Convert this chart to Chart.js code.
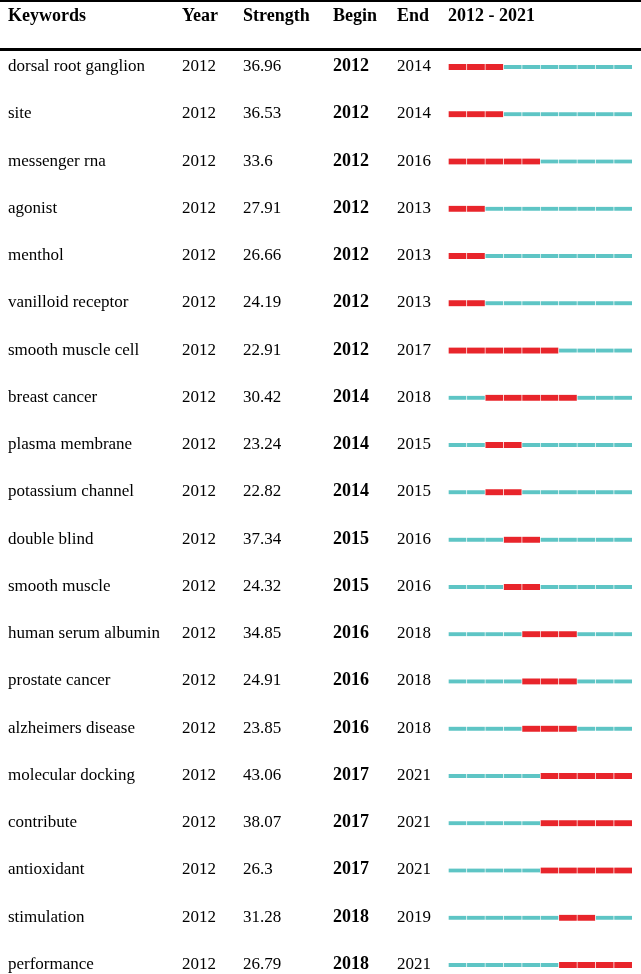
<!DOCTYPE html>
<html>
<head>
<meta charset="utf-8">
<script src="https://cdn.jsdelivr.net/npm/chart.js@4"></script>
<style>
  html, body { margin: 0; padding: 0; background: #fff; }
  #burstChart { display: block; }
</style>
</head>
<body>
<canvas id="burstChart" width="641" height="974"></canvas>
<script>
// table data
const keywords = ['dorsal root ganglion', 'site', 'messenger rna', 'agonist', 'menthol',
    'vanilloid receptor', 'smooth muscle cell', 'breast cancer', 'plasma membrane',
    'potassium channel', 'double blind', 'smooth muscle', 'human serum albumin',
    'prostate cancer', 'alzheimers disease', 'molecular docking', 'contribute',
    'antioxidant', 'stimulation', 'performance'];
const firstYear = [2012, 2012, 2012, 2012, 2012, 2012, 2012, 2012, 2012, 2012,
    2012, 2012, 2012, 2012, 2012, 2012, 2012, 2012, 2012, 2012];
const strength = ['36.96', '36.53', '33.6', '27.91', '26.66', '24.19', '22.91', '30.42', '23.24',
    '22.82', '37.34', '24.32', '34.85', '24.91', '23.85', '43.06', '38.07', '26.3', '31.28', '26.79'];
const burstBegin = [2012, 2012, 2012, 2012, 2012, 2012, 2012, 2014, 2014, 2014,
    2015, 2015, 2016, 2016, 2016, 2017, 2017, 2017, 2018, 2018];
const burstEnd = [2014, 2014, 2016, 2013, 2013, 2013, 2017, 2018, 2015, 2015,
    2016, 2016, 2018, 2018, 2018, 2021, 2021, 2021, 2019, 2021];
const timeline = [2012, 2013, 2014, 2015, 2016, 2017, 2018, 2019, 2020, 2021];
const headers = ['Keywords', 'Year', 'Strength', 'Begin', 'End', '2012 - 2021'];

const RED = '#e8252b';
const TEAL = '#5ec5c5';

// one red and one teal dataset per year, each row gets one segment
const datasets = [];
timeline.forEach(yr => {
    datasets.push({
        data: keywords.map((k, i) => (yr >= burstBegin[i] && yr <= burstEnd[i]) ? [yr, yr + 1] : null),
        backgroundColor: RED,
        barThickness: 6
    });
    datasets.push({
        data: keywords.map((k, i) => (yr >= burstBegin[i] && yr <= burstEnd[i]) ? null : [yr, yr + 1]),
        backgroundColor: TEAL,
        barThickness: 4
    });
});

// draws the table columns and rules next to the bars
const tablePlugin = {
    id: 'tablePlugin',
    afterDraw(chart) {
        const c = chart.ctx;
        const yScale = chart.scales.y;
        const W = chart.width;
        c.save();
        c.fillStyle = '#000';
        c.fillRect(0, 0, W, 2);
        c.fillRect(0, 48, W, 3);

        const colX = [8, 182, 243, 333, 397, chart.chartArea.left];
        c.textBaseline = 'alphabetic';
        c.font = 'bold 18px "Liberation Serif", "Times New Roman", serif';
        headers.forEach((h, j) => c.fillText(h, colX[j], 21));

        keywords.forEach((k, i) => {
            const y = yScale.getPixelForValue(i) + 4;
            c.font = '17px "Liberation Serif", "Times New Roman", serif';
            c.fillText(k, colX[0], y);
            c.fillText(String(firstYear[i]), colX[1], y);
            c.fillText(strength[i], colX[2], y);
            c.fillText(String(burstEnd[i]), colX[4], y);
            c.font = 'bold 18px "Liberation Serif", "Times New Roman", serif';
            c.fillText(String(burstBegin[i]), colX[3], y);
        });
        c.restore();
    }
};

new Chart(document.getElementById('burstChart'), {
    type: 'bar',
    data: { labels: keywords, datasets: datasets },
    options: {
        indexAxis: 'y',
        responsive: false,
        animation: false,
        layout: { padding: { left: 448, right: 9, top: 67, bottom: 9 } },
        datasets: {
            bar: {
                grouped: false,
                clip: false,
                borderSkipped: false,
                borderColor: '#ffffff',
                borderWidth: { left: 1, right: 0, top: 0, bottom: 0 }
            }
        },
        plugins: {
            legend: { display: false },
            tooltip: { enabled: false }
        },
        scales: {
            x: { type: 'linear', min: 2012, max: 2022, display: false },
            y: { type: 'category', offset: false, display: false, grid: { display: false } }
        }
    },
    plugins: [tablePlugin]
});
</script>
</body>
</html>
